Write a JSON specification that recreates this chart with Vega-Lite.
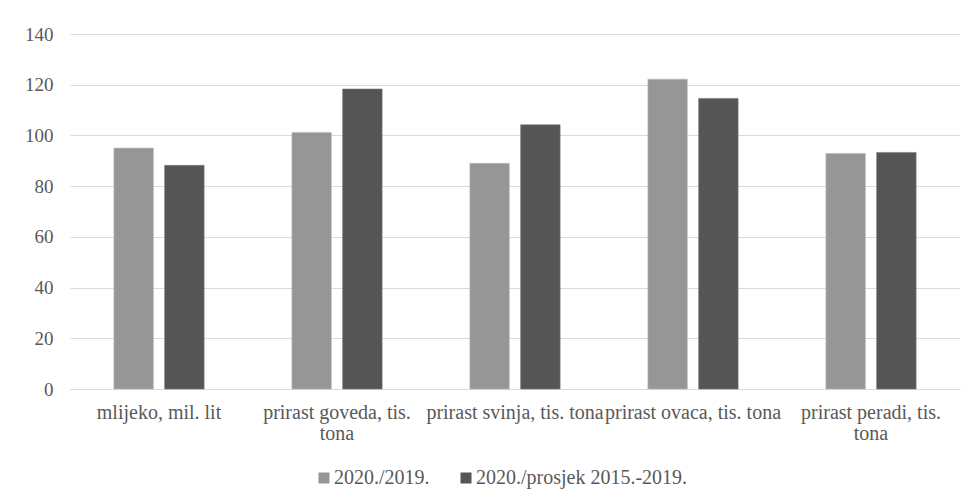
{
  "$schema": "https://vega.github.io/schema/vega-lite/v6.json",
  "autosize": {"type": "none"},
  "width": 890,
  "height": 355,
  "padding": {"left": 70, "top": 34, "right": 17, "bottom": 115},
  "background": "#ffffff",
  "data": {
    "values": [
      {"kategorija": "mlijeko, mil. lit", "serija": "2020./2019.", "vrijednost": 95.0},
      {"kategorija": "mlijeko, mil. lit", "serija": "2020./prosjek 2015.-2019.", "vrijednost": 88.2},
      {"kategorija": "prirast goveda, tis. tona", "serija": "2020./2019.", "vrijednost": 101.2},
      {"kategorija": "prirast goveda, tis. tona", "serija": "2020./prosjek 2015.-2019.", "vrijednost": 118.3},
      {"kategorija": "prirast svinja, tis. tona", "serija": "2020./2019.", "vrijednost": 89.0},
      {"kategorija": "prirast svinja, tis. tona", "serija": "2020./prosjek 2015.-2019.", "vrijednost": 104.2},
      {"kategorija": "prirast ovaca, tis. tona", "serija": "2020./2019.", "vrijednost": 122.2},
      {"kategorija": "prirast ovaca, tis. tona", "serija": "2020./prosjek 2015.-2019.", "vrijednost": 114.6},
      {"kategorija": "prirast peradi, tis. tona", "serija": "2020./2019.", "vrijednost": 92.9},
      {"kategorija": "prirast peradi, tis. tona", "serija": "2020./prosjek 2015.-2019.", "vrijednost": 93.3}
    ]
  },
  "mark": {"type": "bar", "strokeWidth": 1, "strokeOpacity": 0.6},
  "encoding": {
    "x": {
      "field": "kategorija",
      "type": "nominal",
      "sort": null,
      "title": null,
      "scale": {"paddingInner": 0.493, "paddingOuter": 0.2465},
      "axis": {
        "labelAngle": 0,
        "labelFont": "Liberation Serif",
        "labelFontSize": 20,
        "labelColor": "#595959",
        "labelPadding": 13,
        "labelLimit": 400,
        "labelLineHeight": 21,
        "labelExpr": "datum.label == 'prirast goveda, tis. tona' ? ['prirast goveda, tis.', 'tona'] : datum.label == 'prirast peradi, tis. tona' ? ['prirast peradi, tis.', 'tona'] : datum.label",
        "ticks": false,
        "domainColor": "#d9d9d9",
        "domainWidth": 1,
        "labelOverlap": false
      }
    },
    "xOffset": {
      "field": "serija",
      "type": "nominal",
      "sort": null,
      "scale": {"paddingInner": 0.222, "paddingOuter": 0}
    },
    "y": {
      "field": "vrijednost",
      "type": "quantitative",
      "title": null,
      "scale": {"domain": [0, 140], "nice": false},
      "axis": {
        "values": [0, 20, 40, 60, 80, 100, 120, 140],
        "labelFont": "Liberation Serif",
        "labelFontSize": 19,
        "labelColor": "#595959",
        "labelPadding": 17,
        "ticks": false,
        "tickSize": 0,
        "domain": false,
        "gridColor": "#d9d9d9",
        "gridWidth": 1
      }
    },
    "color": {
      "field": "serija",
      "type": "nominal",
      "sort": null,
      "scale": {"domain": ["2020./2019.", "2020./prosjek 2015.-2019."], "range": ["#969696", "#555555"]},
      "legend": {
        "title": null,
        "orient": "none",
        "legendX": 244,
        "legendY": 434,
        "padding": 0,
        "direction": "horizontal",
        "symbolType": "square",
        "symbolSize": 121,
        "symbolStrokeWidth": 0,
        "labelFont": "Liberation Serif",
        "labelFontSize": 20,
        "labelColor": "#595959",
        "labelLimit": 400,
        "columnPadding": 26,
        "labelOffset": 0
      }
    },
    "stroke": {
      "field": "serija",
      "type": "nominal",
      "sort": null,
      "scale": {"domain": ["2020./2019.", "2020./prosjek 2015.-2019."], "range": ["#bdbdbd", "#7a7a7a"]},
      "legend": null
    }
  },
  "config": {
    "view": {"stroke": null}
  }
}
